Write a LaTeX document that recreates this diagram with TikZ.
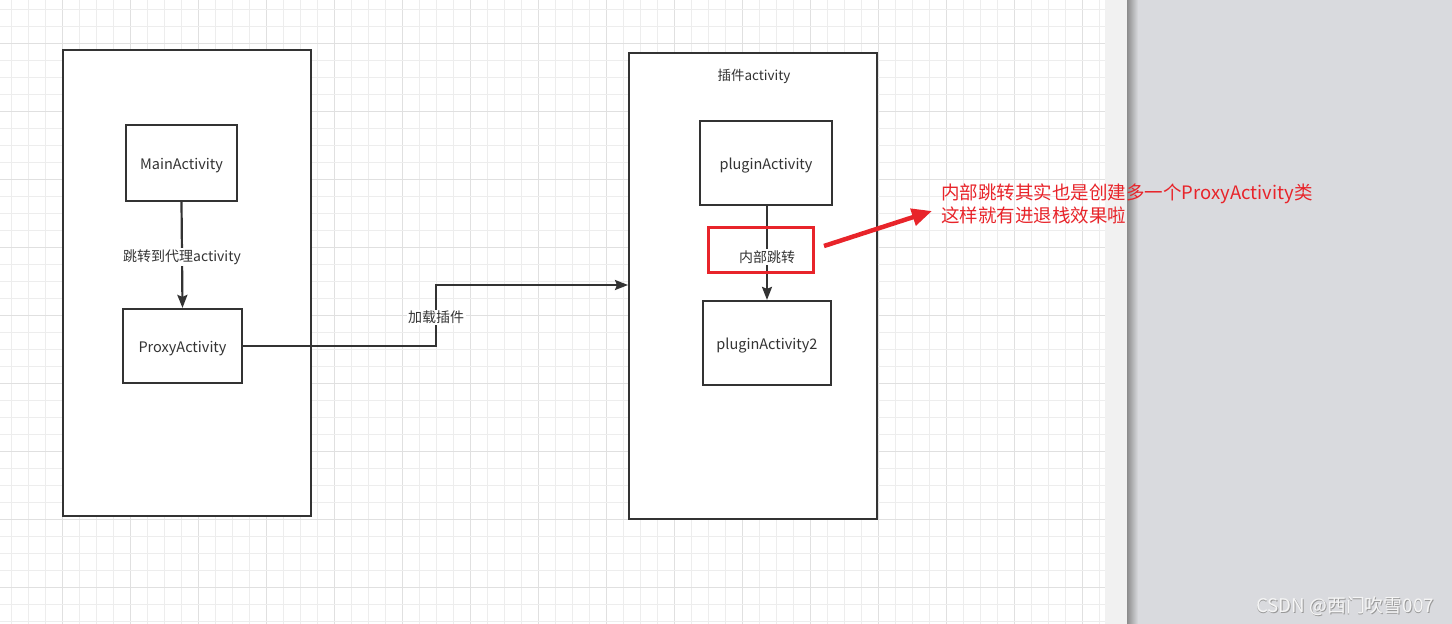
\documentclass[tikz,border=0pt]{standalone}
\usepackage{fontspec}
\setmainfont{Noto Sans CJK SC}
\usetikzlibrary{arrows.meta,positioning}
\definecolor{gridminor}{HTML}{EDEDED}
\definecolor{gridmajor}{HTML}{E0E0E0}
\definecolor{ink}{HTML}{333333}
\definecolor{redmark}{HTML}{E8242A}
\definecolor{panelgray}{HTML}{D9DADE}
\definecolor{stripgray}{HTML}{F1F1F1}
\tikzset{
  container/.style={draw=ink, line width=2.2pt, fill=white},
  actbox/.style={draw=ink, line width=2.2pt, fill=white, font=\fontsize{14.5}{17}\selectfont, text=ink, inner sep=0pt, text height=14.5pt, text depth=0.8pt},
  flow/.style={draw=ink, line width=2.2pt, -{Stealth[length=13pt,width=10pt,inset=2pt]}},
  edgelabel/.style={fill=white, font=\fontsize{14}{16}\selectfont, text=ink, inner sep=1.5pt, yshift=-2pt},
  note/.style={text=redmark, font=\fontsize{18.5}{23}\selectfont, align=left, anchor=north west, inner sep=0pt},
}
\begin{document}
\begin{tikzpicture}[x=1pt,y=-1pt]
\useasboundingbox (0,0) rectangle (1452,624);
% canvas
\fill[white] (0,0) rectangle (1105,624);
\foreach \i in {0,...,64} {
  \pgfmathsetmacro{\xx}{11.3+17*\i}
  \pgfmathtruncatemacro{\m}{mod(\i+1,4)}
  \ifnum\m=0 \draw[gridmajor, line width=1pt] (\xx,0) -- (\xx,624);
  \else \draw[gridminor, line width=1pt] (\xx,0) -- (\xx,624); \fi
}
\foreach \j in {0,...,36} {
  \pgfmathsetmacro{\yy}{9.3+17*\j}
  \pgfmathtruncatemacro{\m}{mod(\j+2,4)}
  \ifnum\m=0 \draw[gridmajor, line width=1pt] (0,\yy) -- (1105,\yy);
  \else \draw[gridminor, line width=1pt] (0,\yy) -- (1105,\yy); \fi
}
% right side
\fill[stripgray] (1105,0) rectangle (1127,624);
\fill[panelgray] (1127,0) rectangle (1452,624);
\shade[left color=black!45, right color=panelgray] (1127,0) rectangle (1138,624);

% containers
\draw[container] (63,50) rectangle (311,516);
\draw[container] (629,53) rectangle (877,519);
\node[text=ink, font=\fontsize{13.5}{16}\selectfont] (plugtitle) at (754,76) {插件activity};

% nodes
\node[actbox, minimum width=111pt, minimum height=76pt] (main) at (181.5,163) {MainActivity};
\node[actbox, minimum width=119pt, minimum height=74pt] (proxy) at (182.5,346) {ProxyActivity};
\node[actbox, minimum width=132pt, minimum height=84pt] (plug1) at (766,163) {pluginActivity};
\node[actbox, minimum width=128pt, minimum height=84pt] (plug2) at (767,343) {pluginActivity2};

% connectors
\draw[flow] (main.south) -- node[edgelabel] {跳转到代理activity} (proxy.north);
\coordinate (bendA) at (436,346);
\coordinate (bendB) at (436,285);
\coordinate (entry) at (628,285);
\draw[flow] (proxy.east) -- (bendA) -- node[edgelabel, pos=0.5] {加载插件} (bendB) -- (entry);
\draw[flow] (plug1.south -| 767,0) -- node[edgelabel, pos=0.52] {内部跳转} (plug2.north -| 767,0);

% red highlight
\node[draw=redmark, line width=3pt, minimum width=105pt, minimum height=45pt, inner sep=0pt] (hl) at (760.5,249.5) {};
\coordinate (noteTip) at (932,211);
\draw[redmark, line width=4.5pt, -{Triangle[length=20pt,width=17pt]}] (824,246) -- (noteTip);
\node[note] (note) at (941,184) {内部跳转其实也是创建多一个ProxyActivity类\\这样就有进退栈效果啦};

% watermark
\node[text=black!40, font=\fontsize{18.8}{20}\selectfont] (wmshadow) at (1345.8,606.8) {CSDN @西门吹雪007};
\node[text=white!96!black, font=\fontsize{18.8}{20}\selectfont] (wm) at (1345,606) {CSDN @西门吹雪007};
\end{tikzpicture}
\end{document}
